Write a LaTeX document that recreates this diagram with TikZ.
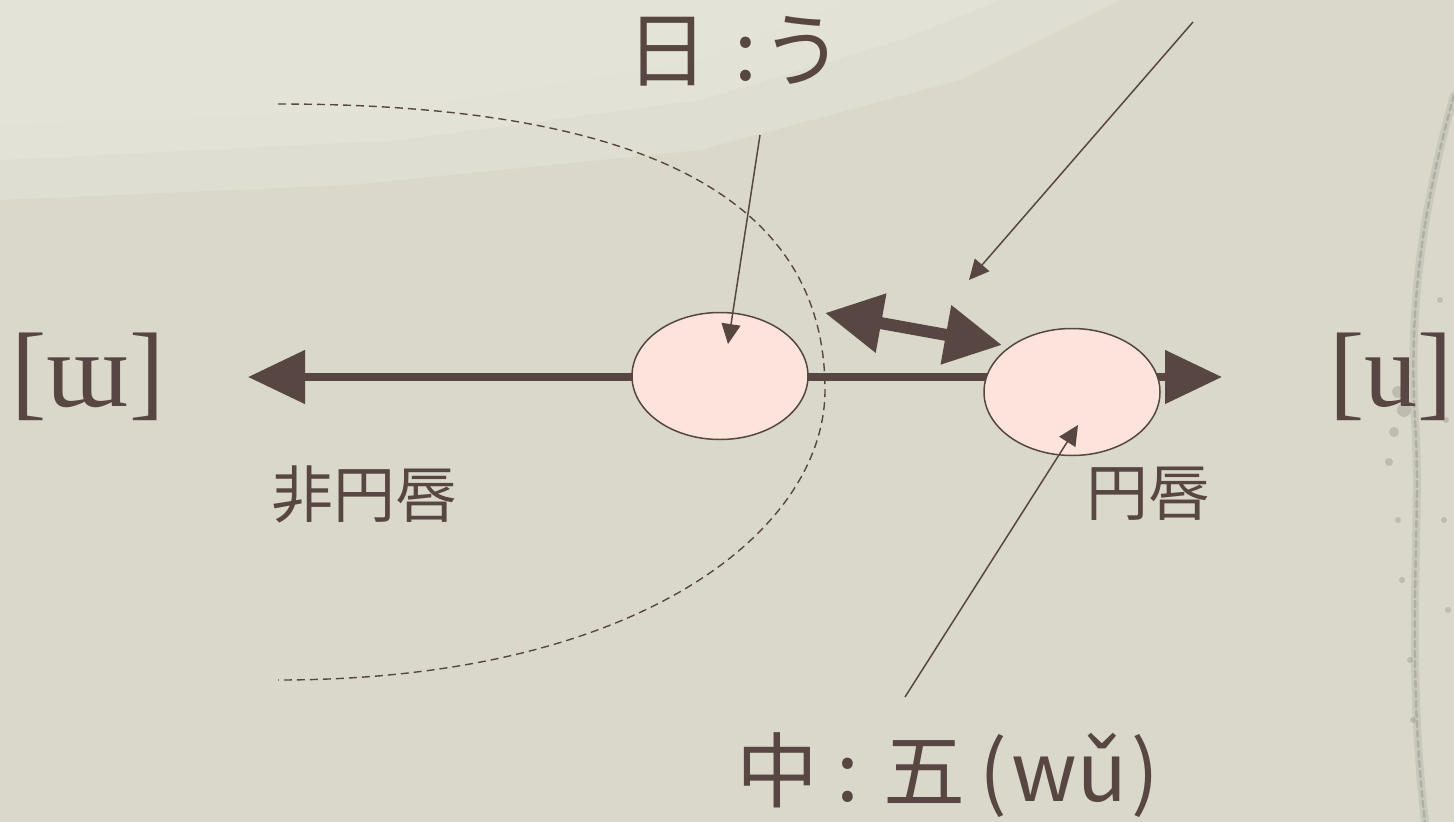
\documentclass[tikz,border=0pt]{standalone}
\usepackage{fontspec}
\setmainfont{Liberation Serif}
\newfontfamily\jp{Noto Sans CJK JP}
\usetikzlibrary{arrows.meta,shapes.geometric}
\definecolor{ink}{RGB}{88,70,66}
\definecolor{bgbase}{RGB}{217,216,203}
\definecolor{bglight}{RGB}{230,229,218}
\definecolor{pinkfill}{RGB}{252,228,220}
\definecolor{paper}{RGB}{140,138,128}
\tikzset{
  vowel/.style={ellipse, draw=ink, line width=1.5pt, fill=pinkfill, minimum width=176pt, minimum height=127pt, inner sep=0pt},
  axis/.style={draw=ink, line width=8pt, {Triangle[length=57pt,width=52pt]}-{Triangle[length=57pt,width=52pt]}},
  swing/.style={draw=ink, line width=12pt, {Triangle[length=57pt,width=57pt]}-{Triangle[length=57pt,width=57pt]}},
  pointer/.style={draw=ink, line width=1.5pt, -{Triangle[length=20pt,width=19pt]}},
  border/.style={draw=ink, line width=1.4pt, dash pattern=on 8pt off 5pt},
  bigjp/.style={text=ink, inner sep=0pt, font=\jp\fontsize{82}{96}\selectfont},
  midjp/.style={text=ink, inner sep=0pt, font=\jp\fontsize{62}{74}\selectfont},
  ipa/.style={text=ink, inner sep=0pt, font=\fontsize{106}{120}\selectfont},
}
\begin{document}
\begin{tikzpicture}[x=1pt,y=-1pt]
\useasboundingbox (0,0) rectangle (1454,822);
% background
\fill[bgbase] (0,0) rectangle (1454,822);
\fill[bglight, opacity=0.5] (0,0) -- (1120,0) -- (960,80) -- (700,150) -- (350,185) -- (0,200) -- cycle;
\fill[bglight, opacity=0.7] (0,0) -- (1000,0) -- (900,40) -- (700,100) -- (400,140) -- (0,160) -- cycle;
\fill[bglight, opacity=0.5] (0,0) -- (850,0) -- (700,60) -- (400,110) -- (0,125) -- cycle;
% paper edge at right
\draw[paper, opacity=0.2, line width=8pt, line cap=round] (1454,95) .. controls (1425,200) and (1408,300) .. (1415,420) .. controls (1422,520) and (1405,650) .. (1425,822);
\draw[paper, opacity=0.4, line width=2.5pt, line cap=round, dash pattern=on 6pt off 4pt] (1454,95) .. controls (1425,200) and (1408,300) .. (1415,420) .. controls (1422,520) and (1405,650) .. (1425,822);
\fill[paper, opacity=0.35] (1398,392) circle (6pt) (1404,410) circle (7pt) (1394,432) circle (5pt) (1389,462) circle (4pt) (1398,520) circle (3pt) (1402,580) circle (3pt) (1410,660) circle (3pt) (1413,720) circle (3pt) (1440,300) circle (3pt) (1446,420) circle (3pt) (1444,520) circle (3pt) (1448,610) circle (3pt);
% dashed boundary
\draw[border] (278,104) .. controls (700,104) and (825,230) .. (825,390) .. controls (825,530) and (640,680) .. (278,680);
% axis
\coordinate (ltip) at (248,377);
\coordinate (rtip) at (1222,377);
\path[axis] (ltip) -- (rtip);
% vowels
\node[vowel] (ja) at (720,376) {};
\node[vowel] (zh) at (1072,392) {};
% two-headed arrow
\coordinate (sl) at (825,313);
\coordinate (sr) at (1002,345);
\path[swing] (sl) -- (sr);
% labels
\node[ipa] (unr) at (88,377) {[ɯ]};
\node[ipa, anchor=east] (rnd) at (1453,377) {[u]};
\node[midjp] (unrlab) at (364,494) {非円唇};
\node[midjp] (rndlab) at (1148,494) {円唇};
\node[bigjp] (jalab) at (735,51) {日\hspace{26pt}:\hspace{4pt}う};
\node[bigjp, anchor=west] (zhlab) at (736,775) {中 : 五\hspace{14pt}(\hspace{4pt}wǔ\hspace{4pt})};
% pointers
\coordinate (jafrom) at (760,135);
\coordinate (jato) at (728,344);
\coordinate (topfrom) at (1193,22);
\coordinate (topto) at (969,280);
\coordinate (zhfrom) at (905,697);
\coordinate (zhto) at (1078,425);
\path[pointer] (jafrom) -- (jato);
\path[pointer] (topfrom) -- (topto);
\path[pointer] (zhfrom) -- (zhto);
\end{tikzpicture}
\end{document}
